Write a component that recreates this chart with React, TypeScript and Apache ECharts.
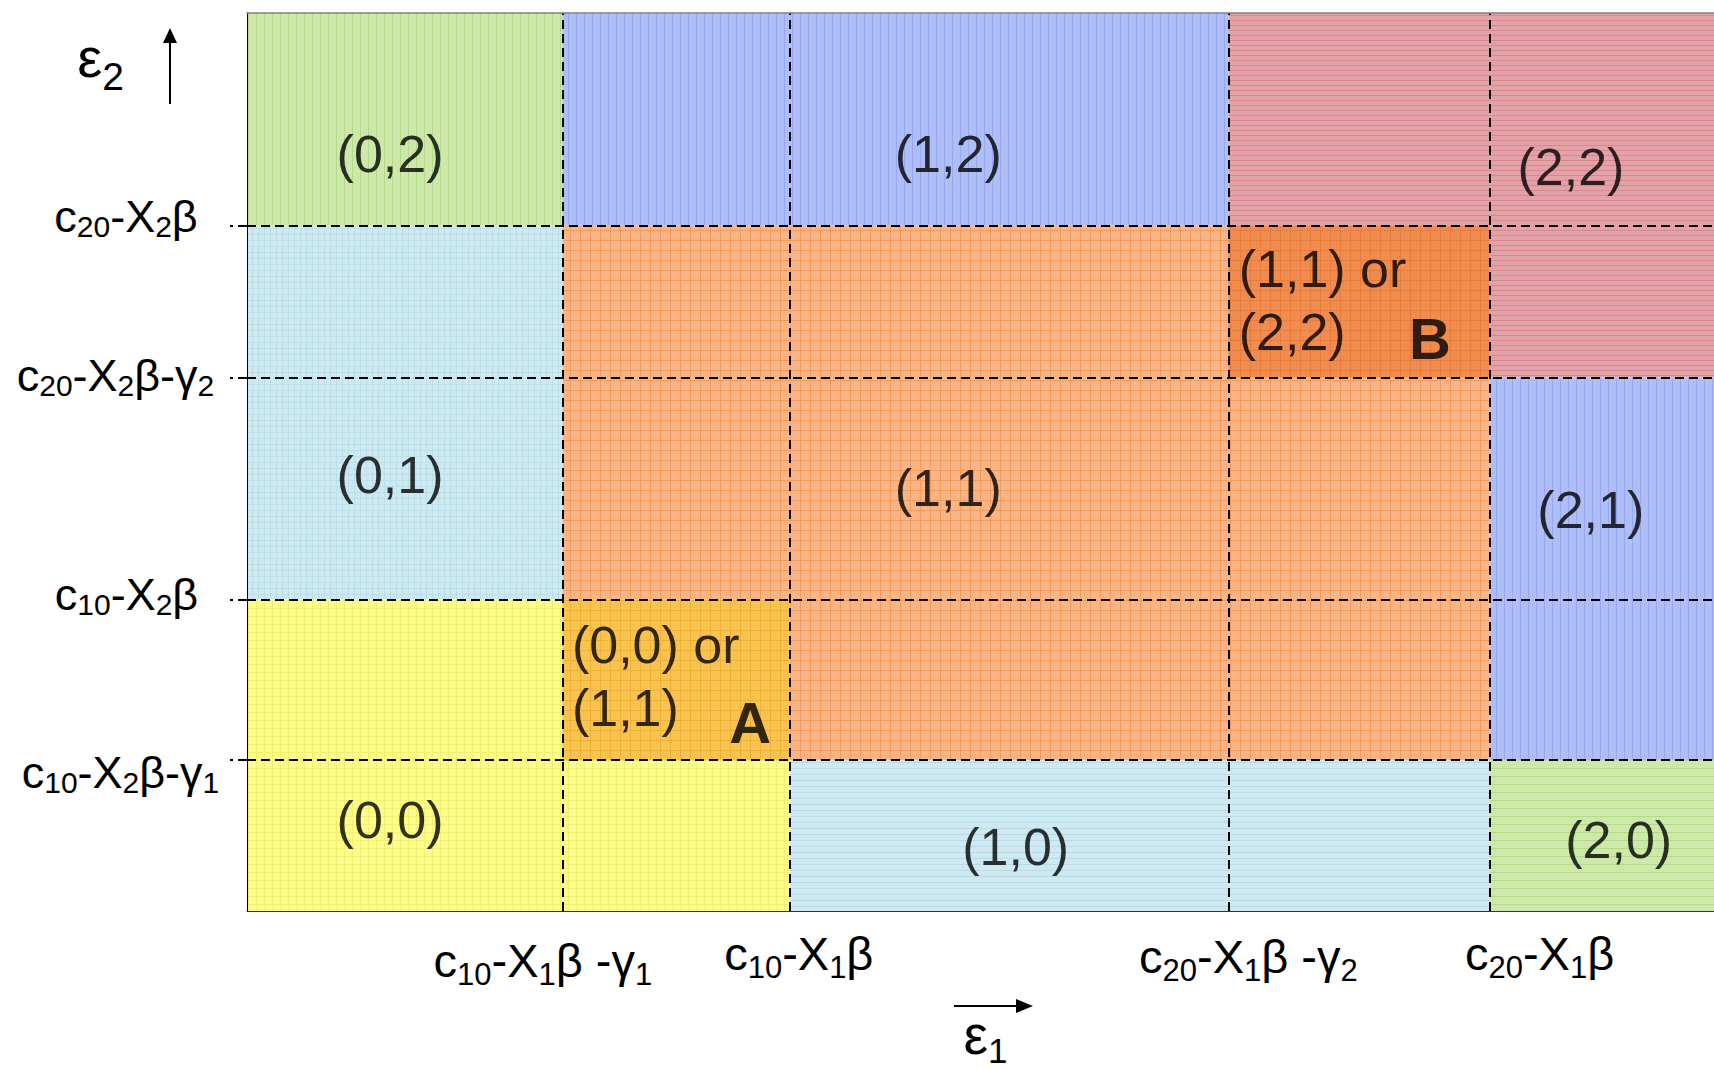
import React, { useEffect, useRef } from "react";
import * as echarts from "echarts";

const FONT = "'Liberation Sans', Arial, Helvetica, sans-serif";

// Boundary values on each axis (axis spans 0..100)
const xBounds = [0, 21.5, 37.0, 66.9, 84.7, 100];
const yBounds = [0, 16.8, 34.7, 59.4, 76.3, 100];

// Tick labels at the inner boundaries (ascending); _{..} marks a subscript
const xTickLabels = ["c_{10}-X_{1}β -γ_{1}", "c_{10}-X_{1}β", "c_{20}-X_{1}β -γ_{2}", "c_{20}-X_{1}β"];
const yTickLabels = ["c_{10}-X_{2}β-γ_{1}", "c_{10}-X_{2}β", "c_{20}-X_{2}β-γ_{2}", "c_{20}-X_{2}β"];

// Region rectangles, as indices into xBounds / yBounds (draw order)
const regionXFrom = [1, 0, 1, 3, 4, 0, 3, 4, 0, 1, 2, 4];
const regionXTo = [4, 1, 3, 5, 5, 1, 4, 5, 2, 2, 4, 5];
const regionYFrom = [1, 4, 4, 4, 3, 2, 3, 1, 0, 1, 0, 0];
const regionYTo = [4, 5, 5, 5, 4, 4, 4, 3, 2, 2, 1, 1];
const regionFill = ["orange", "greenV", "blue", "red", "red", "cyanGrid", "orangeDark", "blue", "yellow", "amber", "cyanH", "greenH"];

// Region labels
const regionLabels = ["(0,2)", "(1,2)", "(2,2)", "(0,1)", "(1,1)", "(2,1)", "(0,0)", "(1,0)", "(2,0)"];
const regionLabelX = [9.75, 47.8, 90.25, 9.75, 47.8, 91.6, 9.75, 52.4, 93.5];
const regionLabelY = [84.25, 84.25, 82.9, 48.6, 47.1, 44.6, 10.1, 7.1, 7.9];

// Ambiguous zones
const zoneTexts = ["(0,0) or\n(1,1)", "(1,1) or\n(2,2)"];
const zoneTextX = [22.15, 67.6];
const zoneTextY = [26.15, 67.95];
const zoneLetters = ["A", "B"];
const zoneLetterX = [34.3, 80.64];
const zoneLetterY = [20.95, 63.7];

const FILLS: Record<string, { bg: string; line: string; kind: string; step: number }> = {
  orange: { bg: "#f9b585", line: "#f39c5d", kind: "vh", step: 10 },
  orangeDark: { bg: "#ef8c50", line: "#e97b3b", kind: "vh", step: 10 },
  amber: { bg: "#f8c34e", line: "#f0b036", kind: "vh", step: 10 },
  greenV: { bg: "#cde8aa", line: "#b3db86", kind: "v", step: 8 },
  greenH: { bg: "#cde8aa", line: "#b3db86", kind: "h", step: 8 },
  blue: { bg: "#afbef7", line: "#97a9f2", kind: "v", step: 8 },
  red: { bg: "#e3a1a8", line: "#d8878f", kind: "h", step: 5 },
  cyanGrid: { bg: "#d0e9f1", line: "#bcdfe9", kind: "vh", step: 6 },
  cyanH: { bg: "#d0e9f1", line: "#b8dce7", kind: "h", step: 6 },
  yellow: { bg: "#fdfd8e", line: "#f3f172", kind: "vh", step: 8 },
};

function makePattern(key: string) {
  const f = FILLS[key];
  const c = document.createElement("canvas");
  c.width = f.step;
  c.height = f.step;
  const ctx = c.getContext("2d")!;
  ctx.fillStyle = f.bg;
  ctx.fillRect(0, 0, f.step, f.step);
  ctx.fillStyle = f.line;
  if (f.kind.includes("v")) ctx.fillRect(0, 0, 1, f.step);
  if (f.kind.includes("h")) ctx.fillRect(0, 0, f.step, 1);
  return { image: c.toDataURL(), repeat: "repeat", imageWidth: f.step, imageHeight: f.step };
}

function parseSub(s: string) {
  return s
    .split(/(_\{[^}]*\})/)
    .filter((p) => p.length > 0)
    .map((p) => (p.startsWith("_{") ? { t: p.slice(2, -1), sub: true } : { t: p, sub: false }));
}

// Every token is middle-aligned on a fixed line height; vertical padding shifts
// a token by (top - bottom) / 2, which gives the subscript drop and label offsets.
function buildLabels(
  labels: string[],
  prefix: string,
  cfg: { main: number; sub: number; lh: number; off: number; dx: number[]; dy: number[] }
) {
  const rich: Record<string, any> = {};
  const texts: string[] = [];
  labels.forEach((lab, i) => {
    const parts = parseSub(lab);
    const dx = cfg.dx[i];
    const PL = dx > 0 ? 2 * dx : 0;
    const PR = dx < 0 ? -2 * dx : 0;
    let s = "";
    parts.forEach((p, j) => {
      const shift = cfg.dy[i] + (p.sub ? cfg.off : 0);
      const T = shift > 0 ? 2 * shift : 0;
      const B = shift < 0 ? -2 * shift : 0;
      const nm = `${prefix}${i}x${j}`;
      rich[nm] = {
        fontSize: p.sub ? cfg.sub : cfg.main,
        lineHeight: cfg.lh,
        verticalAlign: "middle",
        fontFamily: FONT,
        color: "#000",
        padding: [T, j === parts.length - 1 ? PR : 0, B, j === 0 ? PL : 0],
      };
      s += `{${nm}|${p.t}}`;
    });
    texts.push(s);
  });
  return { rich, texts };
}

export default function App() {
  const ref = useRef<HTMLDivElement>(null);

  useEffect(() => {
    if (!ref.current) return;
    const chart = echarts.init(ref.current, undefined, { renderer: "svg" });

    const patterns: Record<string, any> = {};
    Object.keys(FILLS).forEach((k) => (patterns[k] = makePattern(k)));

    const xInner = xBounds.slice(1, -1);
    const yInner = yBounds.slice(1, -1);

    const xLab = buildLabels(xTickLabels, "xl", {
      main: 47, sub: 31, lh: 50, off: 14,
      dx: [-19.5, 9, 20, 50],
      dy: [5, -1.5, 1.5, -2],
    });
    const yLab = buildLabels(yTickLabels, "yl", {
      main: 45, sub: 30, lh: 50, off: 10,
      dx: [0.5, 6.5, -4.5, 6],
      dy: [12, -5, -2, -9],
    });

    const findIdx = (arr: number[], v: number) => arr.findIndex((b) => Math.abs(b - v) < 1e-6);

    const regionData = regionFill.map((_, i) => [
      xBounds[regionXFrom[i]],
      xBounds[regionXTo[i]],
      yBounds[regionYFrom[i]],
      yBounds[regionYTo[i]],
    ]);

    const option: any = {
      animation: false,
      backgroundColor: "#ffffff",
      grid: { left: 247, right: 0, top: 13, bottom: 158, containLabel: false, outerBoundsMode: "none" },
      xAxis: [
        {
          type: "value",
          min: 0,
          max: 100,
          position: "bottom",
          z: 10,
          splitLine: { show: false },
          axisLine: { show: true, lineStyle: { color: "#333", width: 1 } },
          axisTick: { show: false },
          axisLabel: {
            customValues: xInner,
            formatter: (v: number) => xLab.texts[findIdx(xInner, v)] ?? "",
            align: "center",
            verticalAlign: "middle",
            margin: 44,
            rich: xLab.rich,
          },
          name: "{e|ε}{s|1}",
          nameLocation: "middle",
          nameGap: 124,
          nameTextStyle: {
            align: "center",
            verticalAlign: "middle",
            rich: {
              e: { fontSize: 55, lineHeight: 56, verticalAlign: "middle", fontFamily: FONT, color: "#000", padding: [0, 0, 0, 10] },
              s: { fontSize: 35, lineHeight: 56, verticalAlign: "middle", fontFamily: FONT, color: "#000", padding: [30, 0, 0, 0] },
            },
          },
        },
        {
          type: "value",
          min: 0,
          max: 100,
          position: "top",
          z: 10,
          splitLine: { show: false },
          axisLine: { show: true, lineStyle: { color: "#808080", width: 1.5 } },
          axisTick: { show: false },
          axisLabel: { show: false },
        },
      ],
      yAxis: {
        type: "value",
        min: 0,
        max: 100,
        z: 10,
        splitLine: { show: false },
        axisLine: { show: true, lineStyle: { color: "#000", width: 1 } },
        axisTick: {
          show: true,
          customValues: yInner,
          length: 17,
          inside: false,
          lineStyle: { color: "#000", width: 2, type: [9, 5] },
        },
        axisLabel: {
          customValues: yInner,
          formatter: (v: number) => yLab.texts[findIdx(yInner, v)] ?? "",
          align: "center",
          verticalAlign: "middle",
          margin: 127,
          rich: yLab.rich,
        },
        name: "{e|ε}{s|2}",
        nameLocation: "end",
        nameGap: -44,
        nameTextStyle: {
          align: "right",
          verticalAlign: "middle",
          rich: {
            e: { fontSize: 56, lineHeight: 64, verticalAlign: "middle", fontFamily: FONT, color: "#000" },
            s: { fontSize: 39, lineHeight: 64, verticalAlign: "middle", fontFamily: FONT, color: "#000", padding: [39, 123, 0, 0] },
          },
        },
      },
      graphic: [
        { type: "line", shape: { x1: 170, y1: 104, x2: 170, y2: 38 }, style: { stroke: "#000", lineWidth: 2 }, z: 20 },
        { type: "polygon", shape: { points: [[170, 28], [163, 43], [177, 43]] }, style: { fill: "#000" }, z: 20 },
        { type: "line", shape: { x1: 954, y1: 1006, x2: 1020, y2: 1006 }, style: { stroke: "#000", lineWidth: 2 }, z: 20 },
        { type: "polygon", shape: { points: [[1033, 1006], [1016, 999], [1016, 1013]] }, style: { fill: "#000" }, z: 20 },
      ],
      series: [
        {
          type: "custom",
          z: 1,
          silent: true,
          encode: { x: [0, 1], y: [2, 3] },
          data: regionData,
          renderItem: (params: any, api: any) => {
            const p0 = api.coord([api.value(0), api.value(3)]);
            const p1 = api.coord([api.value(1), api.value(2)]);
            return {
              type: "rect",
              shape: { x: p0[0], y: p0[1], width: p1[0] - p0[0], height: p1[1] - p0[1] },
              style: { fill: patterns[regionFill[params.dataIndex]] },
            };
          },
        },
        {
          type: "line",
          z: 3,
          data: [],
          silent: true,
          markLine: {
            silent: true,
            symbol: ["none", "none"],
            label: { show: false },
            emphasis: { disabled: true },
            lineStyle: { color: "#000", width: 2, type: [9, 5] },
            data: [...xInner.map((v) => ({ xAxis: v })), ...yInner.map((v) => ({ yAxis: v }))],
          },
        },
        {
          type: "scatter",
          z: 5,
          silent: true,
          symbolSize: 0,
          data: regionLabels.map((t, i) => ({ name: t, value: [regionLabelX[i], regionLabelY[i]] })),
          label: { show: true, position: "inside", formatter: "{b}", fontSize: 52, fontFamily: FONT, color: "#000" },
        },
        {
          type: "scatter",
          z: 5,
          silent: true,
          symbolSize: 0,
          data: zoneTexts.map((t, i) => ({ name: t, value: [zoneTextX[i], zoneTextY[i]] })),
          label: {
            show: true, position: "inside", align: "left", verticalAlign: "middle",
            formatter: "{b}", fontSize: 52, lineHeight: 63, fontFamily: FONT, color: "#000",
          },
        },
        {
          type: "scatter",
          z: 5,
          silent: true,
          symbolSize: 0,
          data: zoneLetters.map((t, i) => ({ name: t, value: [zoneLetterX[i], zoneLetterY[i]] })),
          label: {
            show: true, position: "inside", formatter: "{b}", fontSize: 58, fontWeight: "bold",
            fontFamily: FONT, color: "#000",
          },
        },
      ],
    };

    chart.setOption(option);
    return () => chart.dispose();
  }, []);

  return (
    <div
      ref={ref}
      style={{ position: "fixed", left: 0, top: 0, width: "1714px", height: "1069px", background: "#fff" }}
    />
  );
}
